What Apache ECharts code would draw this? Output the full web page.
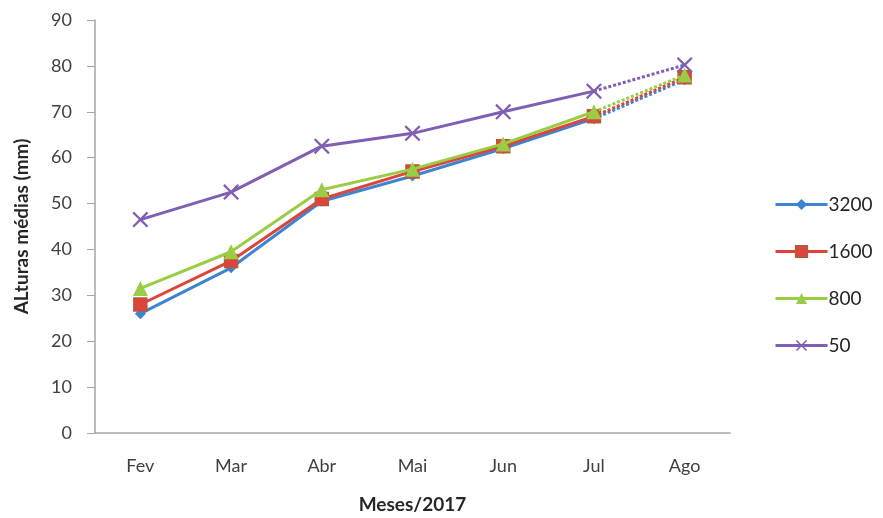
<!DOCTYPE html>
<html>
<head>
<meta charset="utf-8">
<script src="https://cdn.jsdelivr.net/npm/echarts@6/dist/echarts.min.js"></script>
<style>
  html, body { margin: 0; padding: 0; background: #ffffff; overflow: hidden; }
  #chart { width: 883px; height: 518px; }
</style>
</head>
<body>
<div id="chart"></div>
<script>
// Mean heights (mm) per month, one array per treatment
const months = ['Fev', 'Mar', 'Abr', 'Mai', 'Jun', 'Jul', 'Ago'];
const s3200 = [26, 36, 50.5, 56, 62, 68.5, 77];
const s1600 = [28, 37.5, 51, 57, 62.5, 69, 77.5];
const s800  = [31.5, 39.5, 53, 57.5, 63, 70, 78];
const s50   = [46.5, 52.5, 62.5, 65.3, 70, 74.5, 80.2];
const seriesNames = ['3200', '1600', '800', '50'];

const FONT = 'Lato, "Open Sans", sans-serif';
const colors = ['#3d85d1', '#dc443c', '#9acd45', '#7f5fb3'];
const xPath = 'path://M0,1L1,0L5,4L9,0L10,1L6,5L10,9L9,10L5,6L1,10L0,9L4,5Z';
const symbols = ['diamond', 'rect', 'triangle', xPath];
const symbolSizes = [11, 13, 15, 16];
const borders = ['#3d85d1', '#b8583a', '#9acd45', '#7f5fb3'];
const values = [s3200, s1600, s800, s50];
const lastSolid = 5; // Jul: the segment to Ago is drawn dotted

const solidSeries = values.map((arr, i) => ({
  name: seriesNames[i],
  type: 'line',
  data: arr.map((v, k) => (k <= lastSolid ? v : null)),
  symbol: symbols[i],
  symbolSize: symbolSizes[i],
  showAllSymbol: true,
  lineStyle: { color: colors[i], width: 3 },
  itemStyle: { color: colors[i], borderColor: borders[i], borderWidth: i === 1 ? 1.5 : 0 },
  z: 2 + i,
  animation: false
}));

const dottedSeries = values.map((arr, i) => ({
  name: seriesNames[i],
  type: 'line',
  data: arr.map((v, k) => {
    if (k < lastSolid) return null;
    if (k === lastSolid) return { value: v, symbol: 'none' };
    return v;
  }),
  symbol: symbols[i],
  symbolSize: symbolSizes[i],
  showAllSymbol: true,
  lineStyle: { color: colors[i], width: 3, type: [3, 2] },
  itemStyle: { color: colors[i], borderColor: borders[i], borderWidth: i === 1 ? 1.5 : 0 },
  z: 2 + i,
  animation: false
}));

const chart = echarts.init(document.getElementById('chart'), null, { renderer: 'canvas' });
chart.setOption({
  backgroundColor: '#ffffff',
  animation: false,
  grid: { left: 95, top: 20, right: 153, bottom: 85, containLabel: false, outerBoundsMode: 'none' },
  legend: {
    data: seriesNames,
    orient: 'vertical',
    left: 769,
    top: 190,
    itemWidth: 52,
    itemHeight: 14,
    itemGap: 28,
    lineStyle: { width: 3 },
    textStyle: { fontFamily: FONT, fontSize: 19, color: '#262626', padding: [0, 0, 0, -4] }
  },
  xAxis: {
    type: 'category',
    data: months,
    boundaryGap: true,
    axisLine: { lineStyle: { color: '#a6a6a6', width: 1.5 } },
    axisTick: { show: false },
    axisLabel: { fontFamily: FONT, fontSize: 18, color: '#404040', margin: 24 },
    name: 'Meses/2017',
    nameLocation: 'middle',
    nameGap: 62,
    nameTextStyle: { fontFamily: FONT, fontSize: 19, fontWeight: 'bold', color: '#262626' }
  },
  yAxis: {
    type: 'value',
    min: 0,
    max: 90,
    interval: 10,
    axisLine: { show: true, lineStyle: { color: '#a6a6a6', width: 1.5 } },
    axisTick: { show: true, length: 8, lineStyle: { color: '#a6a6a6' } },
    splitLine: { show: false },
    axisLabel: { fontFamily: FONT, fontSize: 18, color: '#404040', margin: 23 },
    name: 'ALturas médias (mm)',
    nameLocation: 'middle',
    nameGap: 64,
    nameTextStyle: { fontFamily: FONT, fontSize: 19, fontWeight: 'bold', color: '#262626' }
  },
  series: solidSeries.concat(dottedSeries)
});
</script>
</body>
</html>
